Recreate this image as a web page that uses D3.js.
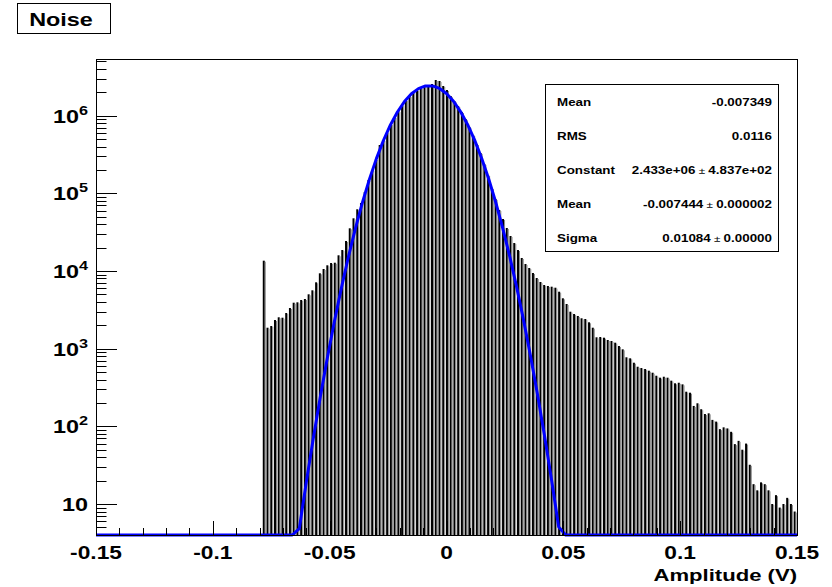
<!DOCTYPE html>
<html>
<head>
<meta charset="utf8">
<style>
  body { margin: 0; background: #fff; }
  text { font-family: "Liberation Sans", Arial, Helvetica, sans-serif; font-weight: bold; fill: #000; }
</style>
</head>
<body>
<div id="canvas"></div>
<script src="https://cdn.jsdelivr.net/npm/d3@7"></script>
<script>

// histogram: one spike per ADC level, counts
const binStart = -0.0782;
const binStep = 0.0016;
const counts = [
  13560, 1860, 1956, 2337, 2533, 2502, 2876, 3336, 3903, 3950,
  4229, 4356, 5007, 5637, 7145, 9330, 10600, 11830, 12660, 12770,
  15910, 18610, 24310, 35420, 47630, 62220, 74960, 103900, 148300, 199300,
  276300, 418300, 485200, 615100, 779700, 959400, 1146000, 1369000, 1588000, 1788000,
  2013000, 2136000, 2266000, 2405000, 2477000, 2552000, 2872000, 2788000, 2405000, 2136000,
  1788000, 1542000, 1329000, 1113000, 904000, 713500, 562800, 430900, 329900, 238200,
  171900, 117000, 84400, 60950, 46650, 35730, 28180, 22900, 18610, 14690,
  12290, 10920, 9413, 8116, 7209, 6596, 6403, 6273, 6089, 5408,
  4448, 3756, 2989, 2792, 2632, 2459, 2408, 2184, 1860, 1400,
  1412, 1383, 1292, 1254, 1193, 1081, 980, 774, 751, 659,
  585, 563, 547, 520, 490, 448, 423, 435, 423, 387,
  358, 364, 347, 279, 271, 183, 198, 166, 144, 147,
  121, 115, 92, 97, 94, 85, 59, 65, 50, 60,
  32, 18, 15, 19, 18, 15, 10, 13, 9, 10,
  12, 10, 8
];

// gaussian fit parameters
const fitConstant = 2.433e6;
const fitMean = -0.007444;
const fitSigma = 0.01084;

const statsLabels = ["Mean", "RMS", "Constant", "Mean", "Sigma"];
const statsValues = [
  ["-0.007349"],
  ["0.0116"],
  ["2.433e+06", "4.837e+02"],
  ["-0.007444", "0.000002"],
  ["0.01084", "0.00000"]
];

const xTickValues = [-0.15, -0.1, -0.05, 0, 0.05, 0.1, 0.15];
const xTickLabels = ["-0.15", "-0.1", "-0.05", "0", "0.05", "0.1", "0.15"];
const yDecades = [1, 2, 3, 4, 5, 6];
const xDomain = [-0.15, 0.15];
const yDomain = [3.99, 5.354e6];

const W = 832, H = 587;
const frame = {left: 96, right: 797, top: 59, bottom: 535};
const stretch = 1.3; // the picture's text is wider than it is tall

const svg = d3.select("#canvas").append("svg")
    .attr("width", W)
    .attr("height", H)
    .attr("viewBox", `0 0 ${W} ${H}`);

const x = d3.scaleLinear().domain(xDomain).range([frame.left, frame.right]);
const y = d3.scaleLog().domain(yDomain).range([frame.bottom, frame.top]).clamp(true);

function label(parent, px, py, size, anchor) {
  return parent.append("g")
    .attr("transform", `translate(${px},${py}) scale(${stretch},1)`)
    .append("text")
    .attr("font-size", size)
    .attr("text-anchor", anchor);
}

// bars
const bars = svg.append("g");
counts.forEach((c, i) => {
  const cx = x(binStart + i * binStep);
  const top = y(c);
  bars.append("rect")
    .attr("x", cx - 1)
    .attr("y", top)
    .attr("width", 2)
    .attr("height", frame.bottom - top)
    .attr("fill", "#000");
  bars.append("rect")
    .attr("x", cx + 1)
    .attr("y", top + 1)
    .attr("width", 1)
    .attr("height", frame.bottom - top - 1)
    .attr("fill", "#8a8a8a");
});

// fit curve, sampled like ROOT (100 points) and held at the frame bottom
const fitX = d3.range(101).map(k => xDomain[0] + k * (xDomain[1] - xDomain[0]) / 100);
const gauss = v => fitConstant * Math.exp(-0.5 * Math.pow((v - fitMean) / fitSigma, 2));
svg.append("path")
  .datum(fitX)
  .attr("fill", "none")
  .attr("stroke", "#0000ff")
  .attr("stroke-width", 3)
  .attr("stroke-linejoin", "round")
  .attr("d", d3.line().x(d => x(d)).y(d => y(Math.max(gauss(d), yDomain[0]))));

// frame
svg.append("rect")
  .attr("x", frame.left + 0.5)
  .attr("y", frame.top + 0.5)
  .attr("width", frame.right - frame.left)
  .attr("height", frame.bottom - frame.top)
  .attr("fill", "none")
  .attr("stroke", "#000")
  .attr("stroke-width", 1);

// x ticks (inside, upwards)
const xMinor = d3.range(31).map(k => -0.15 + k * 0.01);
const axisG = svg.append("g");
xMinor.forEach((v, k) => {
  const px = Math.round(x(v)) + 0.5;
  axisG.append("line")
    .attr("x1", px).attr("x2", px)
    .attr("y1", frame.bottom).attr("y2", frame.bottom - (k % 5 === 0 ? 14 : 7))
    .attr("stroke", "#000");
});
xTickValues.forEach((v, k) => {
  label(svg, x(v), 558.5, 17.5, "middle").text(xTickLabels[k]);
});

// y ticks (log)
y.ticks().filter(v => v >= yDomain[0] && v <= yDomain[1]).forEach(v => {
  const py = Math.round(y(v)) + 0.5;
  const m = v / Math.pow(10, Math.floor(Math.log10(v) + 1e-9));
  axisG.append("line")
    .attr("x1", frame.left).attr("x2", frame.left + (Math.abs(m - 1) < 1e-6 ? 21 : 10.5))
    .attr("y1", py).attr("y2", py)
    .attr("stroke", "#000");
});
yDecades.forEach(d => {
  const py = y(Math.pow(10, d));
  const t = label(svg, 88, py + 7, 18, "end");
  if (d === 1) {
    t.text("10");
  } else {
    t.append("tspan").text("10");
    t.append("tspan").attr("font-size", 12.5).attr("dy", -8).text(d);
  }
});

// axis title
label(svg, 797, 581, 17, "end").text("Amplitude (V)");

// title box
svg.append("rect")
  .attr("x", 17.5).attr("y", 3.5).attr("width", 93).attr("height", 30)
  .attr("fill", "#fff").attr("stroke", "#000");
label(svg, 61, 26, 18, "middle").text("Noise");

// stats box
svg.append("rect")
  .attr("x", 545.5).attr("y", 84.5).attr("width", 233).attr("height", 167)
  .attr("fill", "#fff").attr("stroke", "#000");
statsLabels.forEach((s, k) => {
  const py = 106 + k * 33.9;
  label(svg, 557, py, 10.3, "start").text(s);
  const t = label(svg, 772, py, 10.3, "end");
  const v = statsValues[k];
  t.append("tspan").text(v[0]);
  if (v.length > 1) {
    t.append("tspan").attr("font-weight", "normal").attr("font-size", 9).text(" \u00b1 ");
    t.append("tspan").text(v[1]);
  }
});
</script>
</body>
</html>
